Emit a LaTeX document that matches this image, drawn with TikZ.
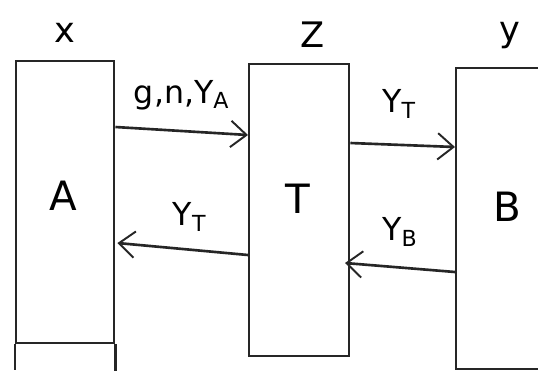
\documentclass[tikz,border=0pt]{standalone}
\usepackage{fontspec}
\setmainfont{DejaVu Sans}
\usetikzlibrary{arrows.meta,calc}
\tikzset{
  lane/.style={draw=black!85, line width=1.4pt, rectangle, inner sep=0pt, anchor=north west},
  msg/.style={draw=black!85, line width=1.5pt, -{Straight Barb[length=9pt,width=15pt,line width=1.1pt]}},
  boxlabel/.style={font=\fontsize{23}{25}\selectfont},
  msglabel/.style={font=\fontsize{18}{20}\selectfont},
  toplabel/.style={font=\fontsize{20}{22}\selectfont}
}
\begin{document}
\begin{tikzpicture}[x=0.02cm,y=-0.02cm]
  \useasboundingbox[fill=white] (0,0) rectangle (538,370);
  % the three lanes
  \node[lane, minimum width=98*0.02cm, minimum height=282*0.02cm] (boxA) at (15,60) {};
  \node[lane, minimum width=100*0.02cm, minimum height=292*0.02cm] (boxT) at (248,63) {};
  \node[lane, minimum width=100*0.02cm, minimum height=301*0.02cm] (boxB) at (455,67) {};
  % side lines of A run on past its lower edge
  \draw[line width=1.4pt, black!85] (boxA.south west) -- ++(0,26);
  \draw[line width=1.4pt, black!85] (boxA.south east) -- ++(0,28);
  % lane titles
  \node[toplabel] (tx) at (65,33) {x};
  \node[toplabel] (tz) at (313,35) {Z};
  \node[toplabel] (ty) at (510,36) {y};
  % lane contents
  \node[boxlabel] (lA) at (63,196) {A};
  \node[boxlabel] (lT) at (298,199) {T};
  \node[boxlabel] (lB) at (507,207) {B};
  % message end points on the lane edges
  \coordinate (a1) at ($(boxA.north east)+(0,67)$);
  \coordinate (t1) at ($(boxT.north west)+(0,72)$);
  \coordinate (t2) at ($(boxT.north east)+(0,80)$);
  \coordinate (b2) at ($(boxB.north west)+(0,80)$);
  \coordinate (b3) at ($(boxB.north west)+(0,205)$);
  \coordinate (t3) at ($(boxT.north west)+(97,200)$);
  \coordinate (t4) at ($(boxT.north west)+(0,192)$);
  \coordinate (a4) at ($(boxA.north east)+(2,183)$);
  % messages
  \draw[msg] (a1) -- (t1) node[msglabel, midway, above=8pt] {g,n,Y$_{\mathrm{A}}$};
  \draw[msg] (t2) -- (b2) node[msglabel, midway, above=11pt, xshift=-2pt] {Y$_{\mathrm{T}}$};
  \draw[msg] (b3) -- (t3) node[msglabel, midway, above=8pt] {Y$_{\mathrm{B}}$};
  \draw[msg] (t4) -- (a4) node[msglabel, midway, above=6pt, xshift=4pt] {Y$_{\mathrm{T}}$};
\end{tikzpicture}
\end{document}
